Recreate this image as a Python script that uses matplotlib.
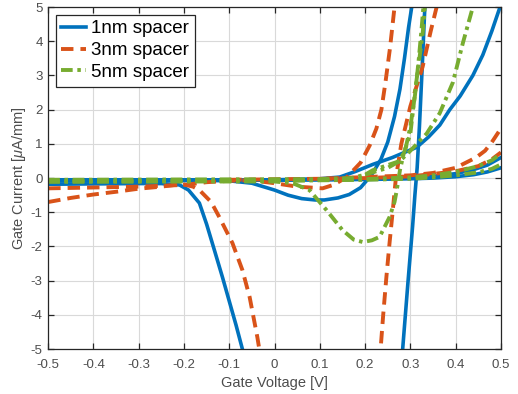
import matplotlib
matplotlib.use('Agg')
import matplotlib.pyplot as plt
import numpy as np

plt.rcParams['font.family'] = ['Liberation Sans', 'DejaVu Sans']
plt.rcParams['axes.unicode_minus'] = False
plt.rcParams['mathtext.fontset'] = 'custom'
plt.rcParams['mathtext.it'] = 'Liberation Sans:italic'

# 1nm spacer (blue, solid)
b1_v = [-0.5, -0.4, -0.3, -0.25, -0.21, -0.19, -0.166, -0.15, -0.133, -0.115, -0.1, -0.085, -0.071, -0.06]
b1_i = [-0.18, -0.17, -0.16, -0.16, -0.2, -0.35, -0.73, -1.35, -2.1, -2.9, -3.6, -4.3, -5.0, -5.6]
b2_v = [-0.5, -0.3, -0.15, -0.1, -0.05, 0.0, 0.03, 0.06, 0.09, 0.11, 0.14, 0.165, 0.19, 0.205, 0.217,
        0.235, 0.25, 0.265, 0.277, 0.287, 0.296, 0.303, 0.31]
b2_i = [-0.05, -0.05, -0.06, -0.08, -0.15, -0.35, -0.5, -0.6, -0.64, -0.64, -0.58, -0.48, -0.28, -0.05, 0.15,
        0.55, 1.05, 1.8, 2.6, 3.5, 4.4, 5.0, 5.6]
b3_v = [0.28, 0.283, 0.295, 0.305, 0.31, 0.315, 0.32, 0.326, 0.332, 0.336]
b3_i = [-5.5, -5.0, -3.0, -1.4, -0.5, 0.3, 1.5, 3.2, 5.0, 5.6]
b4_v = [-0.5, -0.2, 0.0, 0.1, 0.144, 0.18, 0.217, 0.26, 0.314, 0.34, 0.365, 0.387, 0.41, 0.438, 0.46, 0.48, 0.498, 0.505]
b4_i = [-0.06, -0.06, -0.05, -0.02, 0.03, 0.2, 0.4, 0.6, 0.9, 1.2, 1.55, 2.0, 2.4, 3.0, 3.6, 4.3, 5.0, 5.3]
b5_v = [-0.5, 0.0, 0.2, 0.3, 0.35, 0.4, 0.44, 0.47, 0.5]
b5_i = [-0.08, -0.06, -0.03, 0.0, 0.05, 0.13, 0.25, 0.38, 0.6]
b6_i = [-0.08, -0.06, -0.04, -0.02, 0.0, 0.04, 0.1, 0.18, 0.3]

# 3nm spacer (orange, dashed)
o1_v = [-0.5, -0.45, -0.4, -0.35, -0.3, -0.25, -0.22, -0.2, -0.18, -0.166, -0.14, -0.122, -0.093, -0.071,
        -0.055, -0.038, -0.03]
o1_i = [-0.7, -0.58, -0.48, -0.4, -0.31, -0.25, -0.2, -0.19, -0.25, -0.35, -0.7, -1.14, -1.9, -2.69,
        -3.48, -4.65, -5.3]
o2_v = [-0.5, -0.3, -0.2, -0.15, -0.1, -0.055, 0.0, 0.05, 0.106, 0.13, 0.16, 0.19, 0.21, 0.225, 0.236,
        0.245, 0.255, 0.265, 0.272]
o2_i = [-0.3, -0.25, -0.2, -0.12, -0.08, -0.06, -0.15, -0.25, -0.3, -0.2, 0.03, 0.45, 0.95, 1.45, 2.0,
        2.8, 3.8, 5.0, 5.6]
o3_v = [0.232, 0.24, 0.247, 0.254, 0.26, 0.268, 0.28, 0.3, 0.327, 0.345, 0.358, 0.365]
o3_i = [-5.4, -4.0, -2.9, -1.9, -1.1, 0.0, 1.0, 2.1, 3.25, 4.3, 5.0, 5.4]
o4_v = [-0.1, 0.1, 0.2, 0.3, 0.35, 0.4, 0.445, 0.465, 0.48, 0.5]
o4_i = [-0.05, -0.02, 0.03, 0.08, 0.15, 0.3, 0.6, 0.8, 1.05, 1.45]
o5_v = [0.1, 0.2, 0.3, 0.35, 0.4, 0.45, 0.48, 0.5]
o5_i = [-0.02, 0.0, 0.05, 0.12, 0.2, 0.35, 0.55, 0.75]

# 5nm spacer (green, dash-dot)
g1_v = [-0.5, -0.2, 0.0, 0.04, 0.077, 0.115, 0.15, 0.175, 0.195, 0.215, 0.232, 0.254, 0.265, 0.27,
        0.277, 0.285, 0.3, 0.313, 0.327, 0.332, 0.336]
g1_i = [-0.1, -0.1, -0.1, -0.15, -0.35, -0.94, -1.52, -1.8, -1.87, -1.82, -1.72, -1.14, -0.7, -0.35,
        0.23, 0.7, 1.3, 2.8, 4.2, 5.0, 5.5]
g2_v = [-0.5, 0.1, 0.17, 0.2, 0.217, 0.25, 0.277, 0.29, 0.3, 0.31, 0.318, 0.325, 0.33]
g2_i = [-0.05, -0.03, 0.0, 0.1, 0.23, 0.38, 0.5, 0.9, 1.5, 2.4, 3.4, 4.4, 5.2]
g3_v = [0.2, 0.25, 0.277, 0.3, 0.336, 0.365, 0.394, 0.416, 0.438, 0.445]
g3_i = [0.1, 0.3, 0.5, 0.8, 1.3, 1.9, 2.8, 3.95, 5.0, 5.4]
g4_v = [-0.5, 0.0, 0.2, 0.3, 0.35, 0.4, 0.45, 0.48, 0.5]
g4_i = [-0.1, -0.08, -0.03, 0.02, 0.08, 0.18, 0.35, 0.52, 0.72]
g5_i = [-0.1, -0.08, -0.05, -0.02, 0.02, 0.08, 0.17, 0.27, 0.4]

blue = '#0072BD'
orange = '#D95319'
green = '#77AC30'

fig = plt.figure(figsize=(5.18, 3.94), dpi=100)
ax = fig.add_axes([0.093, 0.114, 0.874, 0.868])

# blue first, green on top (same order as original plot)
kb = dict(color=blue, lw=2.6)
ax.plot(b1_v, b1_i, label='1nm spacer', **kb)
ax.plot(b2_v, b2_i, **kb)
ax.plot(b3_v, b3_i, **kb)
ax.plot(b4_v, b4_i, **kb)
ax.plot(b5_v, b5_i, **kb)
ax.plot(b5_v, b6_i, **kb)

ko = dict(color=orange, lw=2.8, ls='--', dashes=[3.2, 1.8])
ax.plot(o1_v, o1_i, label='3nm spacer', **ko)
ax.plot(o2_v, o2_i, **ko)
ax.plot(o3_v, o3_i, **ko)
ax.plot(o4_v, o4_i, **ko)
ax.plot(o5_v, o5_i, **ko)

kg = dict(color=green, lw=2.8, ls='-.', dashes=[3.0, 1.2, 0.9, 1.2])
ax.plot(g1_v, g1_i, label='5nm spacer', **kg)
ax.plot(g2_v, g2_i, **kg)
ax.plot(g3_v, g3_i, **kg)
ax.plot(g4_v, g4_i, **kg)
ax.plot(g4_v, g5_i, **kg)

ax.set_xlim(-0.5, 0.5)
ax.set_ylim(-5, 5)
xt = np.round(np.arange(-0.5, 0.51, 0.1), 1)
ax.set_xticks(xt)
ax.set_xticklabels(['0' if v == 0 else '%g' % v for v in xt])
ax.set_yticks(np.arange(-5, 6, 1))
ax.grid(True, color='#d9d9d9', lw=0.8)
ax.set_axisbelow(True)
ax.tick_params(direction='in', top=True, right=True, length=4, width=0.9,
               labelsize=9.5, colors='#262626', labelcolor='#4d4d4d')
ax.tick_params(axis='x', pad=7)
ax.tick_params(axis='y', pad=4)
for s in ax.spines.values():
    s.set_color('#262626')
    s.set_linewidth(0.9)

ax.set_xlabel('Gate Voltage [V]', fontsize=10.5, color='#4d4d4d', labelpad=4)
ax.set_ylabel(r'Gate Current [$\mu$A/mm]', fontsize=10.5, color='#4d4d4d', labelpad=2)

leg = ax.legend(loc='upper left', fontsize=13.5, handlelength=1.3, handletextpad=0.3,
                borderpad=0.3, labelspacing=0.25, borderaxespad=0.4,
                fancybox=False, framealpha=1, edgecolor='#262626')
leg.get_frame().set_linewidth(0.9)

fig.savefig('out.png', dpi=100)
